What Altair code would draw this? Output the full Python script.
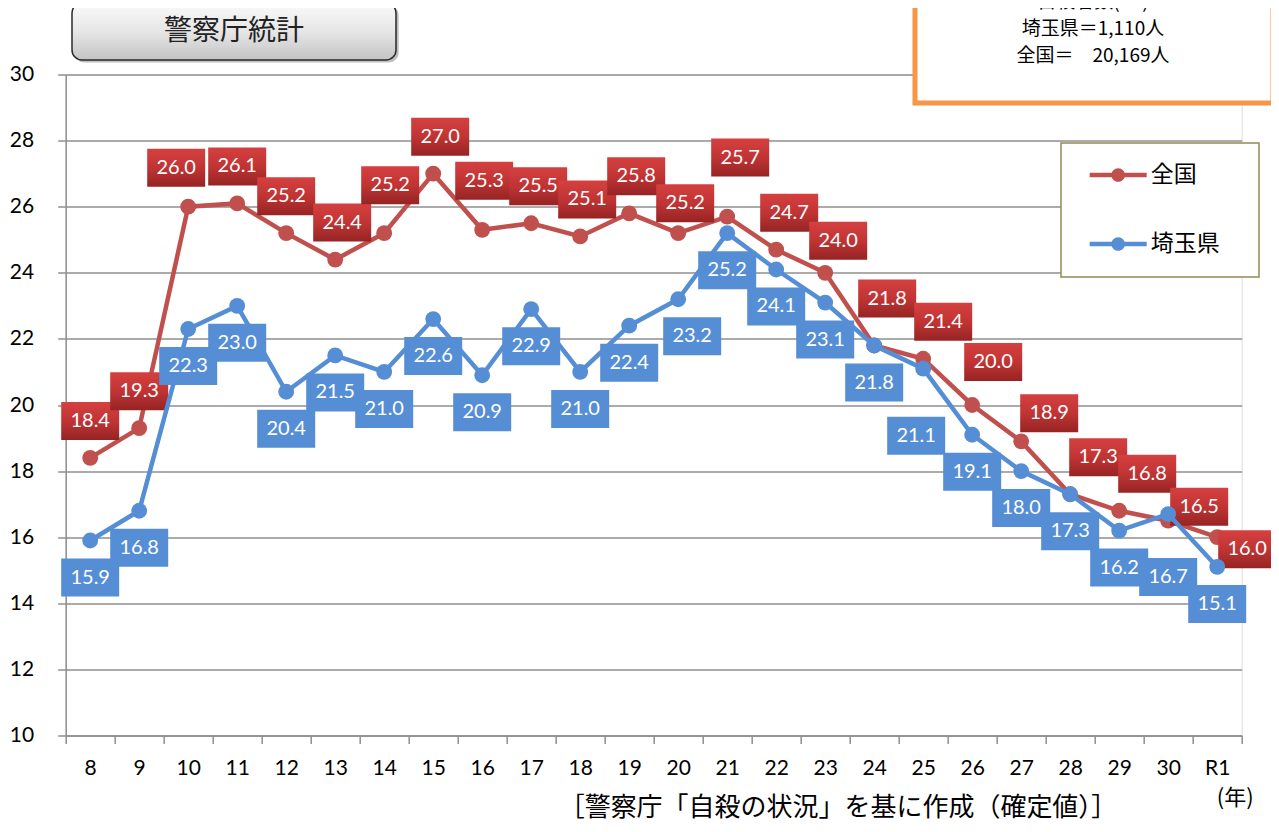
import json
import altair as alt
import pandas as pd

# ---- data ----
years = ["8", "9", "10", "11", "12", "13", "14", "15", "16", "17", "18", "19",
         "20", "21", "22", "23", "24", "25", "26", "27", "28", "29", "30", "R1"]
national = [18.4, 19.3, 26.0, 26.1, 25.2, 24.4, 25.2, 27.0, 25.3, 25.5, 25.1, 25.8,
            25.2, 25.7, 24.7, 24.0, 21.8, 21.4, 20.0, 18.9, 17.3, 16.8, 16.5, 16.0]
saitama = [15.9, 16.8, 22.3, 23.0, 20.4, 21.5, 21.0, 22.6, 20.9, 22.9, 21.0, 22.4,
           23.2, 25.2, 24.1, 23.1, 21.8, 21.1, 19.1, 18.0, 17.3, 16.2, 16.7, 15.1]
series_names = ["全国", "埼玉県"]
y_ticks = [10, 12, 14, 16, 18, 20, 22, 24, 26, 28, 30]

# ---- layout constants ----
W, H = 1176, 661
PX = W / len(years)          # pixels per category
PY = H / 20.0                # pixels per y unit
RED = "#c0504d"
BLUE = "#558ed5"
GRID = "#8f8f8f"
NUM_FONT = "Lato"
JP_FONT = "Noto Sans CJK JP"
BOX_W, BOX_H = 58, 38

# label placement (pixel offsets from the point), mimicking the hand-placed labels
RED_SPECIAL = {2: (-12, -39), 6: (6, -48), 8: (2, -49), 12: (7, -30), 13: (13, -59),
               15: (13, -32), 16: (13, -47), 18: (21, -43), 19: (28, -28),
               22: (31, -14), 23: (30, 12)}
BLUE_SPECIAL = {12: (14, 37), 17: (-7, 67), 22: (0, 63)}


def red_offset(i):
    if i in RED_SPECIAL:
        return RED_SPECIAL[i]
    dx = 0 if i < 5 else 7 if i < 13 else 13 if i < 17 else 20 if i < 19 else 28
    return dx, -37


def blue_offset(i):
    return BLUE_SPECIAL.get(i, (0, 37))


def build(values, name, offset_fn):
    rows = []
    for i, v in enumerate(values):
        dx, dy = offset_fn(i)
        lx = i + dx / PX
        ly = v - dy / PY
        rows.append(dict(idx=i, year=years[i], series=name, value=v,
                         label=f"{v:.1f}", lx=lx, ly=ly,
                         bx=lx - BOX_W / 2 / PX, bx2=lx + BOX_W / 2 / PX,
                         by=ly - BOX_H / 2 / PY, by2=ly + BOX_H / 2 / PY))
    return pd.DataFrame(rows)


df_nat = build(national, series_names[0], red_offset)
df_sai = build(saitama, series_names[1], blue_offset)

xscale = alt.Scale(domain=[-0.5, len(years) - 0.5], nice=False, zero=False)
yscale = alt.Scale(domain=[10, 30], nice=False, zero=False)
cscale = alt.Scale(domain=series_names, range=[RED, BLUE])

label_expr = f"{json.dumps(years, ensure_ascii=False)}[round(datum.value + 0.5)] || ''"
x_axis = alt.Axis(values=[i - 0.5 for i in range(len(years) + 1)], labelExpr=label_expr,
                  labelOffset=PX / 2, labelFlush=False, labelOverlap=False, labelBound=False,
                  tickSize=8, tickColor=GRID, tickWidth=1.5, domainColor=GRID, domainWidth=1.5,
                  grid=False, labelFont=NUM_FONT, labelFontSize=21, labelColor="#000",
                  labelPadding=14, title="(年)", titleFont=JP_FONT, titleFontSize=22,
                  titleFontWeight="normal", titleColor="#000", titleX=1169, titleY=62,
                  titleAlign="center", titleBaseline="middle", titleAngle=0)
y_axis = alt.Axis(values=y_ticks, tickSize=8, tickColor=GRID, tickWidth=1.5,
                  domainColor=GRID, domainWidth=1.5, grid=True, gridColor=GRID, gridWidth=1.5,
                  labelFont=NUM_FONT, labelFontSize=21, labelColor="#000", labelPadding=24,
                  title=None)

legend_path = ("M-1,-0.075H1V0.075H-1Z M0.24,0A0.24,0.24,0,1,1,-0.24,0"
               "A0.24,0.24,0,1,1,0.24,0Z")
legend = alt.Legend(title=None, orient="none", legendX=1024, legendY=72,
                    symbolType=legend_path, symbolSize=57 * 57, symbolStrokeWidth=0,
                    symbolOpacity=1, labelFont=JP_FONT, labelFontSize=23, labelColor="#000",
                    labelOffset=4, rowPadding=28, padding=0, direction="vertical")

red_grad = alt.Gradient(gradient="linear", x1=0, x2=0, y1=0, y2=1,
                        stops=[alt.GradientStop(color="#d54040", offset=0),
                               alt.GradientStop(color="#c13434", offset=0.5),
                               alt.GradientStop(color="#962424", offset=1)])
title_grad = alt.Gradient(gradient="linear", x1=0, x2=0, y1=0, y2=1,
                          stops=[alt.GradientStop(color="#fafafa", offset=0),
                                 alt.GradientStop(color="#e6e6e6", offset=0.5),
                                 alt.GradientStop(color="#c4c4c4", offset=1)])


def series_layers(df, color, box_fill):
    base = alt.Chart(df)
    line = base.mark_line(strokeWidth=4.5, color=color).encode(
        x=alt.X("idx:Q", scale=xscale, axis=x_axis),
        y=alt.Y("value:Q", scale=yscale, axis=y_axis))
    pts = base.mark_circle(size=250, opacity=1).encode(
        x=alt.X("idx:Q", scale=xscale), y=alt.Y("value:Q", scale=yscale),
        color=alt.Color("series:N", scale=cscale, legend=legend))
    boxes = base.mark_rect(fill=box_fill).encode(
        x=alt.X("bx:Q", scale=xscale), x2="bx2:Q",
        y=alt.Y("by:Q", scale=yscale), y2="by2:Q")
    texts = base.mark_text(color="white", font=NUM_FONT, fontSize=20, baseline="middle",
                           align="center").encode(
        x=alt.X("lx:Q", scale=xscale), y=alt.Y("ly:Q", scale=yscale), text="label:N")
    return [line, pts, boxes, texts]


one = pd.DataFrame({"k": [0]})

title_shadow = alt.Chart(one).mark_rect(cornerRadius=10, fill="#000", opacity=0.25).encode(
    x=alt.value(8.5), x2=alt.value(333), y=alt.value(-69), y2=alt.value(-12))
title_box = alt.Chart(one).mark_rect(cornerRadius=10, fill=title_grad, stroke="#2a2a2a",
                                     strokeWidth=1.5).encode(
    x=alt.value(6.3), x2=alt.value(330.3), y=alt.value(-71.5), y2=alt.value(-14.5))
title_text = alt.Chart(pd.DataFrame({"t": ["警察庁統計"]})).mark_text(
    font=JP_FONT, fontSize=28, color="#222", baseline="middle", align="center").encode(
    x=alt.value(168.3), y=alt.value(-43), text="t:N")

note_box = alt.Chart(one).mark_rect(fill="white", stroke="#f79646", strokeWidth=5).encode(
    x=alt.value(849.3), x2=alt.value(1207.3), y=alt.value(-100), y2=alt.value(28.5))
note_lines = ["自殺者数(R1)", "埼玉県＝1,110人", "全国＝　20,169人"]
note_text = alt.Chart(pd.DataFrame({"t": note_lines, "yy": [-73, -45.5, -19]})).mark_text(
    font=JP_FONT, fontSize=19, color="#000", baseline="middle", align="center").encode(
    x=alt.value(1027.3), y=alt.Y("yy:Q", scale=None), text="t:N")

legend_box = alt.Chart(one).mark_rect(fill="white", stroke="#948a54", strokeWidth=1.5).encode(
    x=alt.value(995.3), x2=alt.value(1193.3), y=alt.value(68.5), y2=alt.value(202.5))

source = alt.Chart(pd.DataFrame({"t": ["［警察庁「自殺の状況」を基に作成（確定値）］"]})).mark_text(
    font=JP_FONT, fontSize=26, color="#000", baseline="middle", align="center").encode(
    x=alt.value(772.3), y=alt.value(733.5), text="t:N")

layers = ([legend_box, note_box, note_text, title_shadow, title_box, title_text]
          + series_layers(df_nat, RED, red_grad)
          + series_layers(df_sai, BLUE, BLUE)
          + [source])

chart = alt.layer(*layers).properties(
    width=W, height=H,
    autosize=alt.AutoSizeParams(type="none"),
    padding={"left": 57.7, "top": 66.5, "right": 29, "bottom": 88},
).configure_view(stroke=None).configure(background="white")

chart.save("out.html", embed_options={"renderer": "svg", "actions": False})
